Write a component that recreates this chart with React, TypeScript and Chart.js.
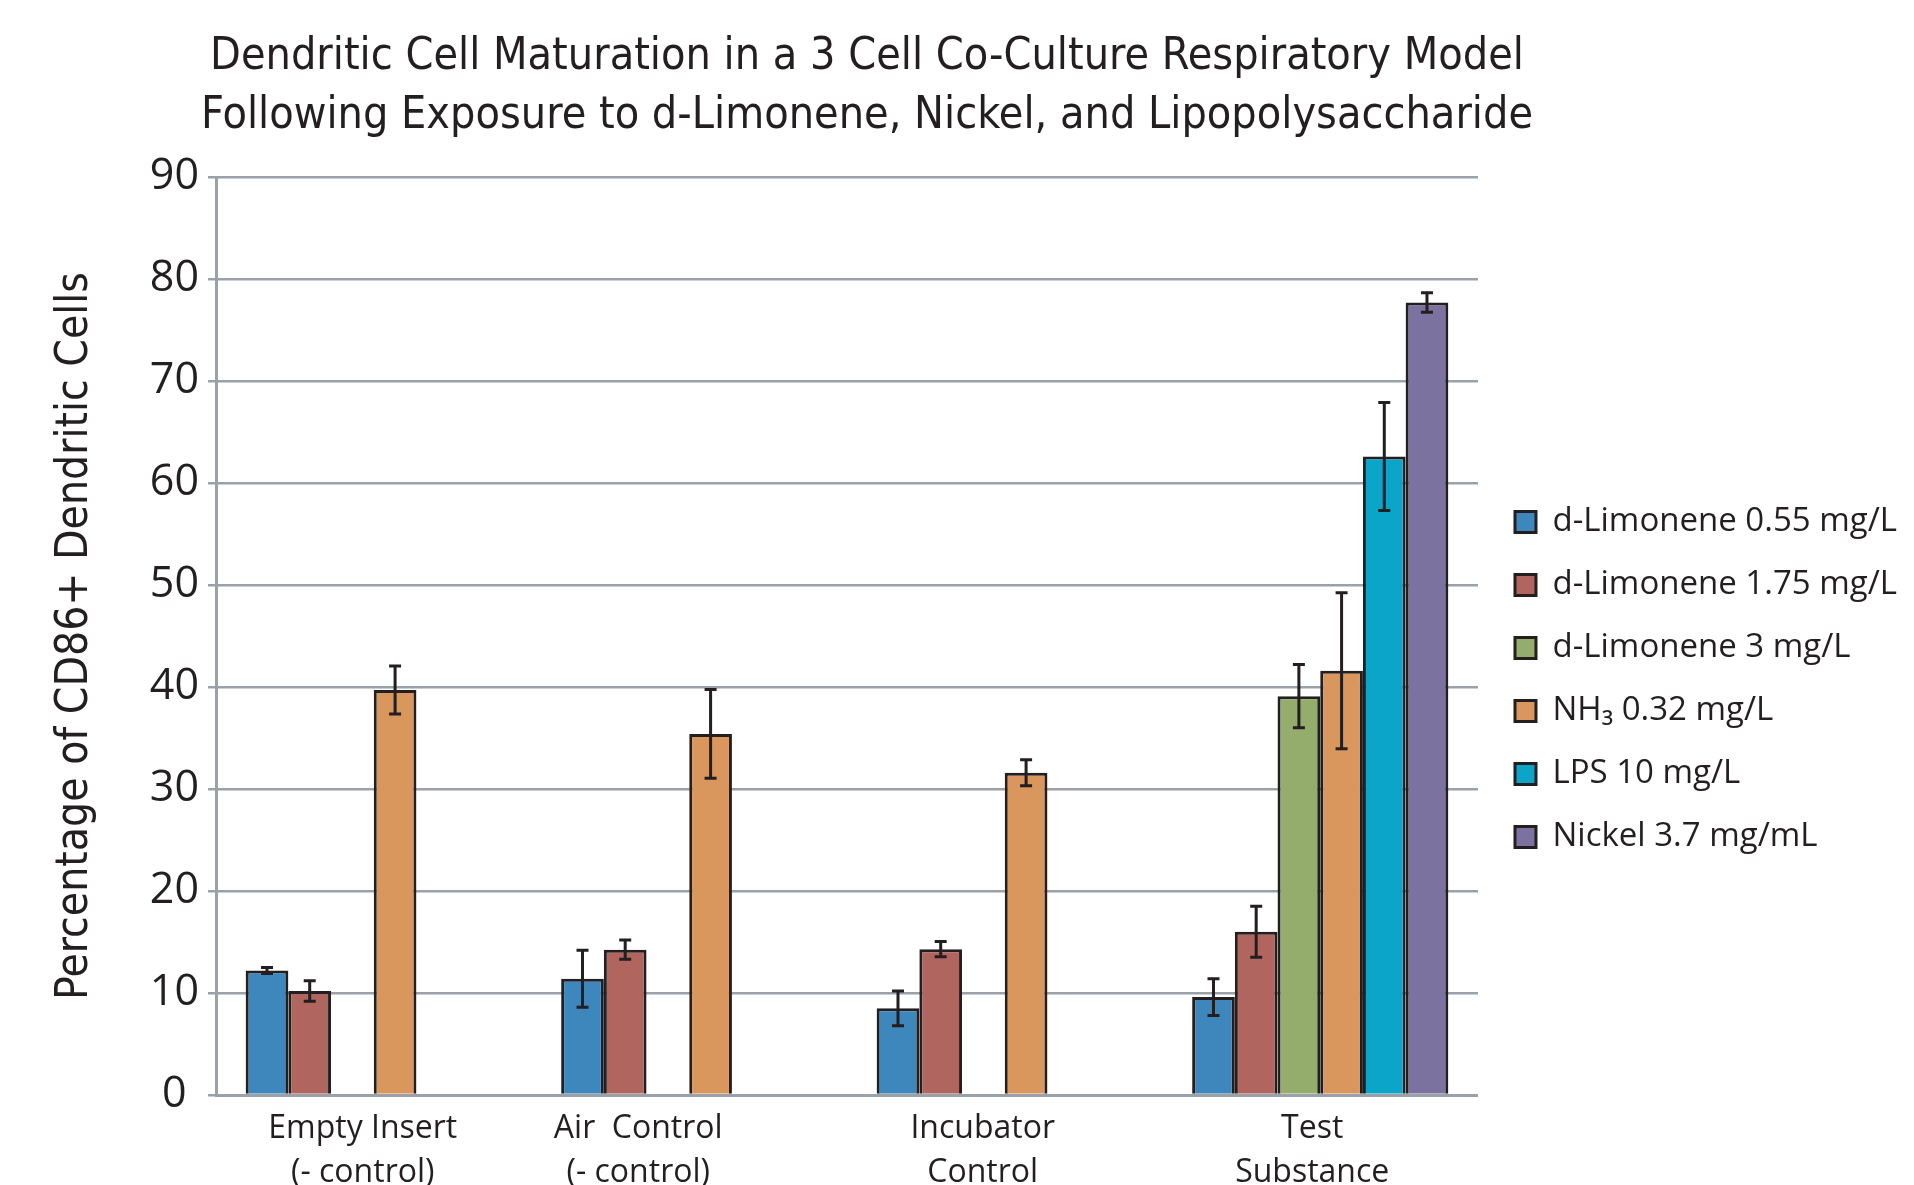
import React, { useEffect, useRef } from 'react';
import { Chart, registerables } from 'chart.js';

Chart.register(...registerables);

// ---- data ----
const categories: string[][] = [
  ['Empty Insert', '(- control)'],
  ['Air  Control', '(- control)'],
  ['Incubator', 'Control'],
  ['Test', 'Substance'],
];

const seriesNames = [
  'd-Limonene 0.55 mg/L',
  'd-Limonene 1.75 mg/L',
  'd-Limonene 3 mg/L',
  'NH\u2083 0.32 mg/L',
  'LPS 10 mg/L',
  'Nickel 3.7 mg/mL',
];

const limonene055 = [12.2, 11.4, 8.5, 9.6];
const limonene175 = [10.2, 14.25, 14.3, 16.0];
const limonene3 = [null, null, null, 39.1];
const nh3 = [39.7, 35.4, 31.6, 41.6];
const lps = [null, null, null, 62.6];
const nickel = [null, null, null, 77.7];

const limonene055Err = [0.3, 2.8, 1.7, 1.8];
const limonene175Err = [1.0, 0.95, 0.75, 2.5];
const limonene3Err = [null, null, null, 3.1];
const nh3Err = [2.35, 4.35, 1.27, 7.65];
const lpsErr = [null, null, null, 5.3];
const nickelErr = [null, null, null, 0.95];

const yTicks = [0, 10, 20, 30, 40, 50, 60, 70, 80, 90];

const titleLines = [
  'Dendritic Cell Maturation in a 3 Cell Co-Culture Respiratory Model',
  'Following Exposure to d-Limonene, Nickel, and Lipopolysaccharide',
];
const yTitle = 'Percentage of CD86+ Dendritic Cells';

// styling
const colors = ['#3d87bd', '#b0655f', '#95ad6c', '#d9965d', '#0ba5c9', '#7b72a0'];
const labelShift = [-11, -51, -22, -8]; // horizontal nudge of each category label (px)

const INK = '#231f20';
const GRID = '#9aa1a8';
const CONDENSED = "'Liberation Sans Narrow', 'DejaVu Sans Condensed', 'Arial Narrow', sans-serif";
const SANS = "'Open Sans', 'Noto Sans', sans-serif";

export default function App() {
  const ref = useRef<HTMLCanvasElement>(null);

  useEffect(() => {
    if (!ref.current) return;
    const values = [limonene055, limonene175, limonene3, nh3, lps, nickel];
    const errors = [limonene055Err, limonene175Err, limonene3Err, nh3Err, lpsErr, nickelErr];

    const errorBars = {
      id: 'errorBars',
      afterDatasetsDraw(chart: any) {
        const ctx = chart.ctx;
        const yScale = chart.scales.y;
        ctx.save();
        ctx.strokeStyle = INK;
        ctx.lineWidth = 3;
        chart.data.datasets.forEach((ds: any, i: number) => {
          const meta = chart.getDatasetMeta(i);
          const errs = errors[i];
          meta.data.forEach((el: any, j: number) => {
            const v = ds.data[j];
            const e = errs[j];
            if (v == null || e == null) return;
            const x = el.x;
            const yt = yScale.getPixelForValue(v + e);
            const yb = yScale.getPixelForValue(v - e);
            const cap = 6;
            ctx.beginPath();
            ctx.moveTo(x, yt);
            ctx.lineTo(x, yb);
            ctx.moveTo(x - cap, yt);
            ctx.lineTo(x + cap, yt);
            ctx.moveTo(x - cap, yb);
            ctx.lineTo(x + cap, yb);
            ctx.stroke();
          });
        });
        ctx.restore();
      },
    };

    const categoryLabels = {
      id: 'categoryLabels',
      afterDraw(chart: any) {
        const ctx = chart.ctx;
        const xScale = chart.scales.x;
        ctx.save();
        ctx.fillStyle = INK;
        ctx.font = `32px ${SANS}`;
        ctx.textAlign = 'center';
        ctx.textBaseline = 'middle';
        categories.forEach((lines, i) => {
          const x = xScale.getPixelForValue(i) + labelShift[i];
          lines.forEach((line, k) => {
            ctx.fillText(line, x, xScale.top + 34 + k * 44);
          });
        });
        ctx.restore();
      },
    };

    const boxShift = {
      id: 'boxShift',
      afterLayout(chart: any) {
        const tb = chart.titleBlock;
        if (tb) {
          tb.left -= 83;
          tb.right -= 83;
        }
        const lg = chart.legend;
        if (lg) {
          lg.left += 7;
          lg.right += 7;
        }
      },
    };

    const chart = new Chart(ref.current, {
      type: 'bar',
      data: {
        labels: categories,
        datasets: seriesNames.map((name, i) => ({
          label: name,
          data: values[i] as any,
          backgroundColor: colors[i],
          borderColor: INK,
          borderWidth: 3,
          categoryPercentage: 0.812,
          barPercentage: 1.0,
        })),
      },
      options: {
        responsive: false,
        animation: false,
        layout: { padding: { left: 0, right: 14, top: 0, bottom: 0 } },
        plugins: {
          tooltip: { enabled: false },
          title: {
            display: true,
            text: titleLines,
            color: INK,
            font: { family: CONDENSED, size: 44.5, weight: 'normal', lineHeight: 58.5 / 44.5 },
            padding: { top: 28.5, bottom: 31.5 },
          },
          legend: {
            display: true,
            position: 'right',
            fullSize: false,
            align: 'center',
            title: {
              display: true,
              text: ' ',
              font: { size: 10, lineHeight: 1 },
              padding: { top: 0, bottom: 77 },
            },
            labels: {
              color: INK,
              font: { family: SANS, size: 33 },
              boxWidth: 21,
              boxHeight: 21,
              padding: 30,
            },
          },
        },
        scales: {
          x: {
            grid: { display: false },
            border: { display: true, color: GRID, width: 3 },
            ticks: { display: false },
            afterFit: (s: any) => {
              s.height = 90;
            },
          },
          y: {
            min: 0,
            max: 90,
            afterBuildTicks: (s: any) => {
              s.ticks = yTicks.map((v) => ({ value: v }));
            },
            grid: { color: GRID, lineWidth: 2.5, drawTicks: true, tickLength: 8 },
            border: { display: true, color: GRID, width: 3 },
            ticks: {
              color: INK,
              font: { family: SANS, size: 43 },
              padding: 9,
              crossAlign: 'center',
            },
            title: {
              display: true,
              text: yTitle,
              color: INK,
              font: { family: CONDENSED, size: 44, weight: 'normal' },
              padding: { top: 49.6, bottom: 0 },
            },
            afterFit: (s: any) => {
              s.width = 216;
            },
          },
        },
      },
      plugins: [errorBars, categoryLabels, boxShift],
    } as any);

    return () => chart.destroy();
  }, []);

  return (
    <canvas
      ref={ref}
      width={1914}
      height={1185}
      style={{ position: 'fixed', left: 0, top: 0, width: '1914px', height: '1185px', display: 'block' }}
    />
  );
}
